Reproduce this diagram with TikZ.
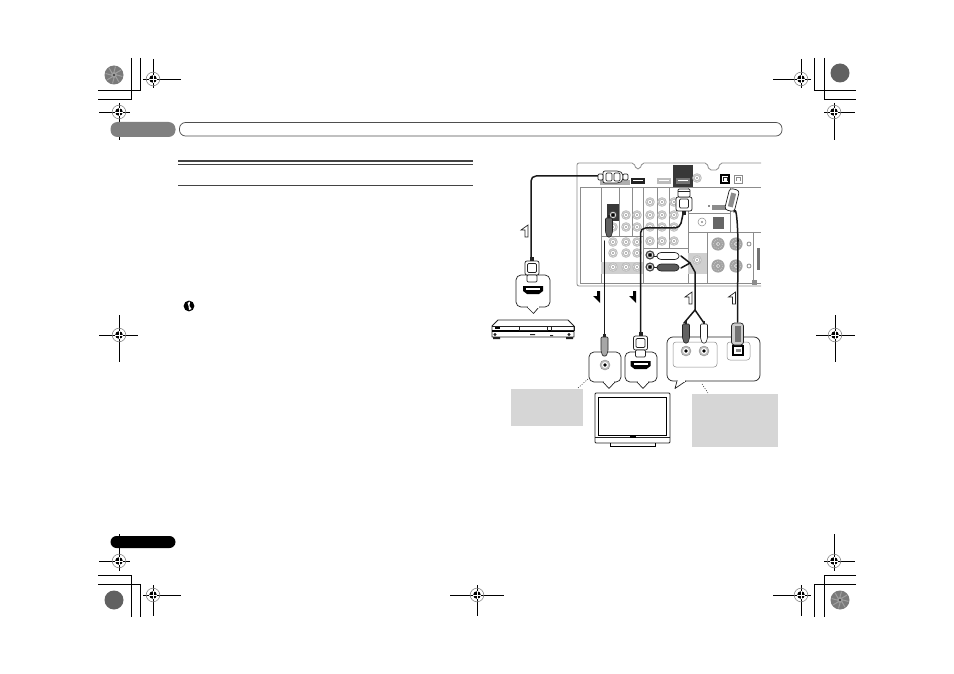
\documentclass[tikz,border=0pt]{standalone}
\usetikzlibrary{calc}
\definecolor{inkd}{HTML}{222222}
\definecolor{panelg}{HTML}{8C8C8C}
\definecolor{noteg}{HTML}{D6D6D6}
\definecolor{bandg}{HTML}{CFCFCF}
\definecolor{portg}{HTML}{BDBDBD}
\tikzset{
  x=1pt,y=-1pt,
  panel/.style={draw=panelg,line width=.8pt},
  cable/.style={draw=black!90,line width=1.5pt,line cap=round,line join=round},
  plugbody/.style={draw=inkd,line width=.7pt,fill=white,rounded corners=1.2pt},
  bubble/.style={draw=inkd,line width=.7pt,fill=white,line join=round},
  inner/.style={draw=panelg,line width=.5pt,rounded corners=3pt},
  note/.style={fill=noteg,draw=none},
  leader/.style={draw=inkd,line width=.5pt,dash pattern=on 1pt off 1.5pt},
  crop/.style={draw=black,line width=.8pt},
  pill/.style={rounded corners=7pt,draw=none},
  jack/.pic={
    \fill[portg] (0,0) circle (4.8);
    \draw[white!92!black,line width=.5pt,dash pattern=on .8pt off .8pt] (0,0) circle (3.6);
    \fill[white] (0,0) circle (2.1);
    \fill[black!55] (0,0) circle (.9);
  },
  darkjack/.pic={
    \fill[inkd!85] (0,0) circle (4.6);
    \draw[white,line width=.6pt] (0,0) circle (2.8);
    \fill[black] (0,0) circle (1.3);
  },
  bigjack/.pic={
    \fill[panelg!80] (0,0) circle (6.6);
    \draw[white!80!black,line width=.5pt,dash pattern=on 1pt off 1pt] (0,0) circle (4.6);
    \fill[white] (0,0) circle (1.8);
    \fill[gray] (0,0) circle (1);
  },
  socket/.pic={
    \draw[fill=portg,draw=panelg,line width=.4pt] (0,0) circle (5);
    \fill[white] (0,0) circle (3);
    \fill[black] (0,0) circle (1.8);
  },
  hdmiup/.pic={
    \fill[inkd] (-2,-15) rectangle (2,-11);
    \draw[plugbody,rounded corners=2pt] (-7,-11) rectangle (7,3);
    \draw[plugbody] (-4.5,-8.5) rectangle (4.5,0.5);
    \draw[plugbody] (-5,3) -- (5,3) -- (5,10) -- (-5,10) -- cycle;
  },
  hdmidown/.pic={
    \fill[inkd] (-2,12) rectangle (2,16);
    \draw[plugbody,rounded corners=2pt] (-8,-2) rectangle (8,12);
    \draw[plugbody] (-6,-10) rectangle (6,-2);
    \draw[plugbody] (-4.5,0) rectangle (4.5,9);
    \fill[inkd] (-6,-8) rectangle (6,-7);
  },
  hdmiport/.pic={
    \fill[black] (-10,-4) -- (10,-4) -- (10,1) -- (6,4) -- (-6,4) -- (-10,1) -- cycle;
    \fill[white] (-7,-1.6) -- (7,-1.6) -- (7,.4) -- (-7,.4) -- cycle;
  },
  rcaplug/.pic={
    \fill[inkd] (-1.2,-15) rectangle (1.2,-12);
    \draw[draw=inkd,line width=.6pt,fill=plugfill,rounded corners=1pt] (-3.5,-12) -- (3.5,-12) -- (3.5,2) -- (1.8,7) -- (-1.8,7) -- (-3.5,2) -- cycle;
  },
  rcah/.pic={
    \draw[plugbody,fill=plugfill] (0,-3.5) -- (16,-3.5) -- (19,-1.5) -- (19,1.5) -- (16,3.5) -- (0,3.5) -- (-3,1.5) -- (-3,-1.5) -- cycle;
    \draw[inkd,line width=.6pt] (-3,0) -- (-6,0);
  },
  arrowup/.pic={
    \draw[draw=inkd,line width=.7pt,fill=white,line join=miter] (3,-6) -- (3,6) -- (0,6) -- (0,-1) -- (-4,-1) -- cycle;
  },
  arrowdown/.pic={
    \fill[black] (0,-6) -- (3,-6) -- (3,6) -- (-4,-1) -- (0,-1) -- cycle;
  },
  regmark/.pic={
    \draw[draw=panelg,line width=.6pt] (0,0) circle (6.8);
    \fill[black] (0,0) circle (3.8);
    \draw[white,line width=.6pt] (-4,0) -- (4,0) (0,-4) -- (0,4);
  },
  platedark/.pic={
    \fill[black!62] (0,0) circle (9.5);
  },
  platefine/.pic={
    \fill[black!52] (0,0) circle (9.5);
    \foreach \a in {0,45,...,315}{\draw[black!38,line width=1pt] (\a:3) -- (\a+10:8.5);}
    \fill[black!38] (0,0) circle (3);
    \fill[black!80] (0,0) circle (1.2);
  },
}
\colorlet{plugfill}{white}
\begin{document}
\begin{tikzpicture}
\useasboundingbox (0,0) rectangle (954,674);
\fill[white] (0,0) rectangle (954,674);

% ---------- crop corners
\draw[crop] (131,58) -- (131,99) -- (98,99);
\draw[crop] (140,58) -- (140,90) -- (98,90);
\draw[crop] (814,58) -- (814,90) -- (856,90);
\draw[crop] (824,58) -- (824,99) -- (856,99);
\draw[crop] (98,575) -- (131,575) -- (131,617);
\draw[crop] (98,584) -- (140,584) -- (140,617);
\draw[crop] (856,575) -- (824,575) -- (824,617);
\draw[crop] (856,584) -- (814,584) -- (814,617);

\pic at (114,75) {platefine};
\pic at (840,73) {platedark};
\pic at (114,600) {platedark};
\pic at (840,600) {platefine};

% ---------- registration marks
\draw[crop] (143,79) -- (181,79) (153,59) -- (153,88);
\draw[crop] (99,112) -- (130,112) (119,103) -- (119,140);
\draw[crop] (773,79) -- (811,79) (801,59) -- (801,88);
\draw[crop] (824,112) -- (855,112) (834,103) -- (834,140);
\draw[crop] (99,335) -- (138,335) (119,315) -- (119,362);
\draw[crop] (816,335) -- (855,335) (835,315) -- (835,362);
\draw[crop] (99,561) -- (130,561) (119,534) -- (119,571);
\draw[crop] (143,595) -- (181,595) (153,585) -- (153,616);
\draw[crop] (450,595) -- (504,595) (477,585) -- (477,616);
\draw[crop] (773,595) -- (811,595) (801,585) -- (801,616);
\draw[crop] (824,561) -- (855,561) (834,534) -- (834,571);
\foreach \p in {(153,79),(119,112),(801,79),(834,112),(119,335),(835,335),(119,561),(153,595),(477,595),(801,595),(834,561)}
  \pic at \p {regmark};

% ---------- header and footer
\fill[black!50,pill] (110.5,122) rectangle (175.5,137);
\draw[draw=inkd!80,line width=.7pt,rounded corners=6pt] (179.5,122.5) rectangle (782,136);
\fill[black,pill,rounded corners=6pt] (110.5,536) rectangle (175.5,548);

% ---------- section rules
\draw[draw=inkd!85,line width=2pt] (178,161.5) -- (473,161.5);
\draw[draw=inkd!85,line width=.7pt] (178,164.3) -- (473,164.3);
\draw[draw=inkd!85,line width=.8pt] (178,185.5) -- (473,185.5);

% ---------- important icon
\fill[black] (189,306) circle (5.4);
\fill[white] (187.5,303) -- (190,301.5) -- (189.5,306) -- (191.5,309) -- (189,310) -- (188.5,306) -- cycle;

% ---------- receiver panel
\draw[panel,rounded corners=2pt] (761,163) -- (720,163) -- (718,170) -- (709,170) -- (707,163) -- (642,163) -- (640,169) -- (636,169) -- (634,163) -- (577,163) -- (577,286) -- (761,286);
\draw[panel] (580,188) -- (580,283) -- (761,283);
\draw[panel] (580,187.5) -- (761,187.5);
\draw[panel] (601,188) -- (601,283) (619,188) -- (619,236) (632,188) -- (632,236) (643,188) -- (643,283) (657,188) -- (657,248) (669,188) -- (669,248) (688,188) -- (688,283) (707,232) -- (707,283) (730,188) -- (730,232) (753,232) -- (753,283);
\draw[panel] (601,236) -- (643,236) (643,248) -- (688,248) (688,213) -- (730,213) (688,232) -- (761,232);

\fill[bandg] (601,262) rectangle (643,274);
\fill[bandg] (688,253) rectangle (707,274);
\pic at (697,260) {jack};

\fill[black!78] (673,165) rectangle (693,187);
\fill[black!78] (607,204) rectangle (619,221);

\foreach \x in {613,626,637} \foreach \y in {227,242,253,267} \pic at (\x,\y) {jack};
\foreach \x in {626,637} \pic at (\x,215) {jack};
\pic at (613,215) {darkjack};
\foreach \x in {650,662,674} \foreach \y in {202,215,227,241} \pic at (\x,\y) {jack};
\pic at (650,255) {darkjack};
\pic at (650,267) {darkjack};
\foreach \x in {718,736} \foreach \y in {244,266} \pic at (\x,\y) {bigjack};
\draw[panelg,line width=.8pt] (749,244) circle (2) (749,266) circle (2);
\fill[black!55] (757,248) rectangle (760,270);
\fill[panelg] (751.5,279.5) rectangle (757,285);
\draw[panelg,line width=.5pt] (702,222) circle (4);
\fill[panelg] (702,222) circle (1.2);
\fill[black!60] (713,217) rectangle (724,229);
\fill[panelg] (712,205) rectangle (726,210);
\fill[panelg] (708,205) rectangle (709.5,207);

% top row HDMI ports and optical
\fill[inkd] (631,178) rectangle (645,184);
\fill[white] (633,180) rectangle (643,181.5);
\fill[portg] (657,178) rectangle (671,184);
\fill[white] (659,180) rectangle (669,181.5);
\fill[black!55] (676,178) rectangle (690,184);
\fill[white] (678,180) rectangle (688,181.5);
\pic at (697,178) {jack};
\draw[draw=black,line width=1.3pt,fill=white] (721,175) rectangle (729,183);
\draw[draw=inkd,line width=.5pt] (723,181) -- (723,177) -- (727,177) -- (727,181);
\draw[draw=panelg,line width=.8pt,fill=white] (734,175) rectangle (742,183);
\draw[draw=panelg,line width=.5pt] (736,181) -- (736,177) -- (740,177) -- (740,181);

% ---------- source device and bubble
\draw[bubble,rounded corners=5pt] (516,275) rectangle (550,307);
\draw[bubble] (527,307) -- (533.5,313.5) -- (539,307);
\draw[draw=white,line width=1.1pt] (528,307) -- (538.5,307);
\draw[draw=inkd,line width=.8pt,fill=white,line join=round] (492,326) -- (498,320) -- (568,320) -- (574,326) -- (574,337) -- (492,337) -- cycle;
\draw[draw=inkd,line width=.5pt] (492,326) -- (574,326);
\fill[black] (492,330) rectangle (574,332);
\fill[black] (495,326.5) rectangle (500,329);
\draw[inkd,line width=.5pt] (519,326) rectangle (547,330) (551,326) rectangle (574,330);
\fill[inkd] (495,334.5) circle (1.6) (569,334.5) circle (1.6);
\fill[inkd] (493,337) rectangle (500,339) (566,337) rectangle (573,339);
\fill[inkd] (530,334) rectangle (535,335) (550,335) rectangle (553,336);

% ---------- output bubbles
\draw[bubble,rounded corners=5pt] (589,352) rectangle (621,382);
\draw[bubble] (603,382) -- (609,388.5) -- (615,382);
\draw[draw=white,line width=1.1pt] (604,382) -- (614,382);
\draw[bubble,rounded corners=5pt] (625,352) rectangle (657,382);
\draw[bubble] (637,382) -- (643,388.5) -- (649,382);
\draw[draw=white,line width=1.1pt] (638,382) -- (648,382);
\draw[bubble,rounded corners=6pt] (667,337) rectangle (760,381);
\draw[bubble] (677,381) -- (675,388.5) -- (686,381);
\draw[draw=white,line width=1.1pt] (678,381) -- (685,381);
\draw[inner] (673,342) -- (673,367) -- (717,367) -- (717,342) -- cycle;
\draw[inner] (727,342) -- (727,360) -- (750,360) -- (750,342) -- cycle;

\pic at (605,365) {socket};
\pic at (686,351) {socket};
\pic at (704,351) {socket};
\pic at (640.5,365) {hdmiport};
\pic at (533,290) {hdmiport};
\fill[black] (732,345) rectangle (744,356);
\fill[white] (734,347) rectangle (742,354);
\fill[panelg] (735.5,349) rectangle (740.5,352);

% ---------- plug anchors
\coordinate (srcTop) at (598,176);
\coordinate (srcLow) at (531,257);
\coordinate (subTop) at (604.5,241);
\coordinate (subLow) at (604.5,335);
\coordinate (hdTop) at (683,214);
\coordinate (hdLow) at (640.5,332);
\coordinate (rcaJoin) at (690,263);
\coordinate (rcaFork) at (695,310);
\coordinate (rcaA) at (684,323);
\coordinate (rcaB) at (704,323);
\coordinate (optTop) at (734,212);
\coordinate (optLow) at (737.5,322);

% ---------- cables
\draw[cable,rounded corners=5pt] (srcTop) -- (531,176) -- (srcLow);
\draw[cable] (subTop) -- (subLow);
\draw[cable,rounded corners=5pt] (hdLow) -- (640.5,228) -- (680,228) -- (hdTop);
\draw[cable] (rcaFork) -- (695,272) -- (rcaJoin) -- (681,256);
\draw[cable] (rcaJoin) -- (681,268);
\draw[cable] (rcaA) -- (rcaFork) -- (rcaB);
\draw[cable] (optTop) to[out=70,in=-90] (738,240) -- (optLow);

% ---------- plugs on the panel
\begin{scope}[shift={(613,177)}]
  \fill[panelg!70] (-13,3) rectangle (17,8);
  \draw[plugbody,rounded corners=2pt] (-10,-6) -- (6,-6) -- (10,-3.5) -- (10,3.5) -- (6,6) -- (-10,6) -- cycle;
  \draw[plugbody] (-7,-4) rectangle (-1,4);
  \draw[plugbody] (1,-4) rectangle (7,4);
  \draw[plugbody] (-15,-3) rectangle (-10,3);
  \draw[plugbody] (10,-3) rectangle (15,3);
\end{scope}
\pic at (684,199) {hdmidown};
\pic at (532,272) {hdmiup};
\pic at (640.5,347) {hdmiup};

\begin{scope}[shift={(609,230)},rotate=12]
  \colorlet{plugfill}{black!62}
  \pic {rcaplug};
\end{scope}
\begin{scope}[shift={(660,256)}]
  \pic {rcah};
\end{scope}
\begin{scope}[shift={(660,267.5)}]
  \colorlet{plugfill}{black!65}
  \pic {rcah};
\end{scope}
\begin{scope}[shift={(604.5,349)}]
  \colorlet{plugfill}{black!35}
  \pic {rcaplug};
\end{scope}
\begin{scope}[shift={(686,336)}]
  \colorlet{plugfill}{black!62}
  \pic {rcaplug};
\end{scope}
\begin{scope}[shift={(704,336)}]
  \colorlet{plugfill}{white}
  \pic {rcaplug};
\end{scope}

% optical plugs
\begin{scope}[shift={(732,200)},rotate=-14]
  \draw[plugbody,fill=white,rounded corners=3pt] (-5,-11) rectangle (5,11);
  \draw[draw=none,fill=black!45] (-2.5,-7) rectangle (2.5,7);
\end{scope}
\begin{scope}[shift={(737.5,334)}]
  \draw[plugbody,fill=black!20,rounded corners=3pt] (-6,-11) rectangle (6,11);
  \draw[draw=none,fill=black!55] (-3,-8) rectangle (3,8);
\end{scope}

% ---------- direction arrows
\pic at (525,231) {arrowup};
\pic at (689,298) {arrowup};
\pic at (732.5,298) {arrowup};
\pic at (597,297) {arrowdown};
\pic at (633,297) {arrowdown};

% ---------- television
\draw[draw=inkd,line width=.8pt,fill=white,rounded corners=1pt] (595,393) rectangle (670,443);
\draw[draw=black,line width=.9pt] (598.5,397) rectangle (666.5,435);
\draw[draw=inkd,line width=.5pt] (595,437.5) -- (670,437.5);
\fill[black] (630,435.5) rectangle (636,437.5);
\draw[draw=black,line width=1pt] (610,443) -- (610,446.5) -- (655,446.5) -- (655,443);

% ---------- note boxes and leaders
\fill[note] (511,389) rectangle (583,426);
\fill[note] (692,394) rectangle (778,447);
\draw[leader] (578,388) -- (588,379);
\draw[leader] (702,384) -- (708,393);
\end{tikzpicture}
\end{document}
